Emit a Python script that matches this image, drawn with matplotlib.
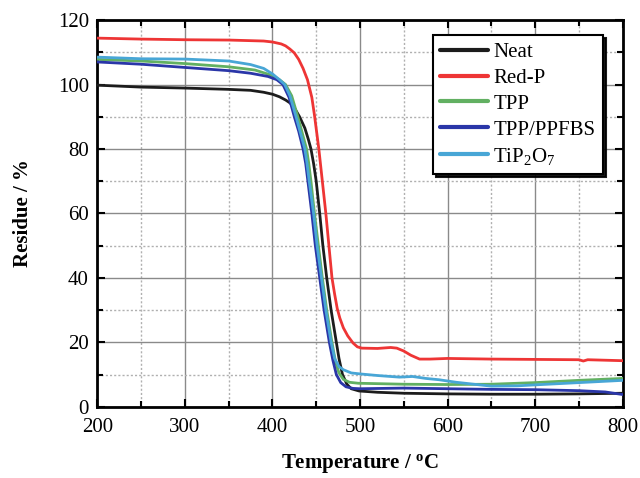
import matplotlib
matplotlib.use("Agg")
import matplotlib.pyplot as plt
from matplotlib.ticker import MultipleLocator

plt.rcParams['font.family'] = ['Liberation Serif', 'DejaVu Serif']
plt.rcParams['mathtext.fontset'] = 'custom'
plt.rcParams['mathtext.rm'] = 'Liberation Serif'
plt.rcParams['mathtext.it'] = 'Liberation Serif:italic'
plt.rcParams['mathtext.bf'] = 'Liberation Serif:bold'

# TGA residue curves (temperature in °C, residue in %)
neat_T = [200, 250, 300, 350, 375, 390, 400, 408, 415, 420, 425, 431, 437, 441, 444, 447,
          450, 454, 457.6, 462, 467, 473, 476, 480, 485, 490, 499, 520, 550, 600, 650,
          700, 750, 800]
neat_R = [99.8, 99.2, 98.9, 98.5, 98.2, 97.6, 97.0, 96.2, 95.2, 94.3, 92.8, 90.0, 86.5, 83.0, 80.0, 75.5,
          70.0, 60.0, 50.0, 40.0, 30.0, 20.0, 15.0, 10.0, 7.0, 5.6, 4.9, 4.5, 4.2, 4.0, 3.9,
          3.9, 4.0, 4.2]

redp_T = [200, 250, 300, 350, 390, 400, 410, 415, 420, 425, 430, 435, 440, 445, 448, 453,
          457, 461, 464.5, 468, 471, 474, 477, 481, 486, 492, 497, 502, 520, 535, 542, 550,
          558, 568, 580, 600, 650, 700, 750, 755, 760, 800]
redp_R = [114.4, 114.1, 113.9, 113.8, 113.5, 113.2, 112.6, 112.0, 111.0, 109.8, 107.8, 105.0, 101.5, 96.0, 90.5, 80.0,
          70.0, 60.0, 50.0, 40.0, 35.0, 30.5, 27.5, 24.5, 22.0, 19.8, 18.6, 18.2, 18.1, 18.4, 18.2, 17.3,
          16.0, 14.8, 14.8, 15.0, 14.8, 14.7, 14.6, 14.2, 14.6, 14.3]

tpp_T = [200, 250, 300, 350, 380, 400, 408, 415, 422, 429, 434, 439, 441.5, 444, 448, 452.5,
         457, 462, 468, 472, 476, 481, 488, 498, 550, 600, 650, 700, 750, 800]
tpp_R = [107.8, 107.3, 106.5, 105.5, 104.5, 102.8, 101.5, 100.0, 96.5, 90.0, 85.0, 80.0, 75.5, 70.0, 60.0, 50.0,
         40.0, 30.0, 20.0, 14.0, 10.5, 8.5, 7.6, 7.3, 7.0, 6.9, 7.0, 7.5, 8.2, 8.8]

ppfbs_T = [200, 250, 300, 350, 375, 395, 405, 412, 419, 425, 430, 435, 438, 440.5, 445, 449,
           454, 459, 465, 469, 473, 478, 484, 492, 500, 550, 600, 650, 700, 750, 780, 800]
ppfbs_R = [107.0, 106.3, 105.3, 104.3, 103.5, 102.5, 101.5, 100.0, 96.0, 90.0, 85.5, 80.0, 75.5, 70.0, 60.0, 50.0,
           40.0, 30.0, 20.0, 14.5, 10.0, 7.5, 6.2, 5.7, 5.6, 5.8, 5.6, 5.4, 5.3, 5.0, 4.6, 3.8]

tip_T = [200, 250, 300, 350, 375, 390, 400, 408, 414, 420, 427, 432, 437, 439.5, 442, 447,
         451, 456, 461, 467, 471, 476, 481, 490, 500, 520, 545, 560, 575, 590, 610, 630,
         650, 680, 700, 750, 800]
tip_R = [108.5, 108.0, 107.9, 107.3, 106.2, 105.0, 103.3, 101.5, 100.0, 96.5, 90.0, 85.0, 80.0, 75.5, 70.0, 60.0,
         50.0, 40.0, 30.0, 20.0, 15.0, 12.5, 11.5, 10.5, 10.2, 9.7, 9.2, 9.4, 8.8, 8.4, 7.6, 7.0,
         6.4, 6.5, 6.8, 7.5, 8.2]

series = [
    ("Neat", neat_T, neat_R, "#1c1c1c"),
    ("Red-P", redp_T, redp_R, "#ee3535"),
    ("TPP", tpp_T, tpp_R, "#62b062"),
    ("TPP/PPFBS", ppfbs_T, ppfbs_R, "#2a36a8"),
    (r"$\mathregular{TiP_2O_7}$", tip_T, tip_R, "#48a6d6"),
]

fig = plt.figure(figsize=(6.4, 4.78), dpi=100)
ax = fig.add_axes([0.152, 0.149, 0.821, 0.809])

for label, T, R, c in series:
    ax.plot(T, R, color=c, lw=2.0, label=label, zorder=3,
            solid_joinstyle='round', solid_capstyle='round')

ax.set_xlim(200, 800)
ax.set_ylim(0, 120)
ax.xaxis.set_major_locator(MultipleLocator(100))
ax.xaxis.set_minor_locator(MultipleLocator(50))
ax.yaxis.set_major_locator(MultipleLocator(20))
ax.yaxis.set_minor_locator(MultipleLocator(10))

ax.grid(which='major', color='#8a8a8a', lw=1.0, ls='-', zorder=0)
ax.grid(which='minor', color='#b0b0b0', lw=1.0, ls=(0, (1.5, 1.5)), zorder=0)

ax.tick_params(which='both', direction='in', top=True, right=True, labelsize=15, width=1.5)
ax.tick_params(which='major', length=6)
ax.tick_params(which='minor', length=4)
ax.tick_params(axis='x', which='major', pad=8)
ax.tick_params(axis='y', which='major', pad=6)
for s in ax.spines.values():
    s.set_linewidth(2.0)

ax.set_xlabel(r'Temperature / $\mathregular{^{o}}$C', fontsize=15, fontweight='bold', labelpad=11)
ax.set_ylabel('Residue / %', fontsize=15, fontweight='bold', labelpad=18)

leg = ax.legend(loc='upper right', bbox_to_anchor=(0.962, 0.961), fontsize=15, frameon=True,
                fancybox=False, shadow={'color': 'black', 'alpha': 0.9}, edgecolor='black',
                handlelength=2.3, handletextpad=0.25, borderpad=0.35, labelspacing=0.3,
                borderaxespad=0.0)
leg.get_frame().set_linewidth(1.5)
for line in leg.get_lines():
    line.set_linewidth(3.0)

fig.savefig("out.png", dpi=100)
